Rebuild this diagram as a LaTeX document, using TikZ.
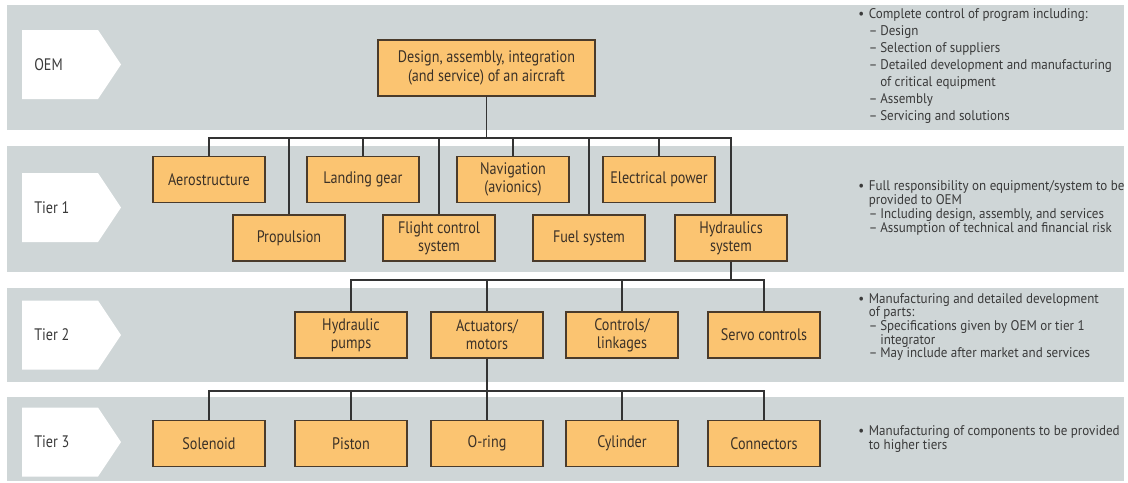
\documentclass[tikz,border=0pt]{standalone}
\usepackage{fontspec}
\setmainfont{PT Sans}[FakeStretch=0.85]
\newfontfamily\notefont{PT Sans}[FakeStretch=0.93]
\definecolor{bandgray}{HTML}{CFD6D7}
\definecolor{boxfill}{HTML}{FBC471}
\definecolor{boxline}{HTML}{4A3B2B}
\definecolor{inktext}{HTML}{3B3127}
\definecolor{notetext}{HTML}{3A3A3A}

\begin{document}
\begin{tikzpicture}[x=0.75pt,y=-0.75pt,
  band/.style={fill=bandgray},
  tierlab/.style={anchor=west,inner sep=0pt,text=notetext,font=\fontsize{12.5}{14}\selectfont},
  unit/.style={draw=boxline,line width=0.9pt,fill=boxfill,minimum width=84pt,minimum height=34.5pt,
    inner sep=2pt,align=center,text=inktext,font=\fontsize{12.5}{13.5}\selectfont},
  link/.style={draw=black!80,line width=0.9pt},
  note/.style={anchor=west,align=left,inner sep=0pt,text=notetext}]
  \useasboundingbox (0,0) rectangle (1128,482);
  % grey bands, one per level
  \fill[band] (7,5) rectangle (1124,130);
  \fill[band] (7,146) rectangle (1124,272);
  \fill[band] (7,288) rectangle (1124,382);
  \fill[band] (7,397) rectangle (1124,481);
  \foreach \yc/\lab [count=\i] in {64.5/OEM,207.5/Tier 1,335/Tier 2,442/Tier 3}{
    \fill[white] (22,\yc-34.5) -- (98,\yc-34.5) -- (121,\yc) -- (98,\yc+34.5) -- (22,\yc+34.5) -- cycle;
    \node[tierlab] (tier\i) at (34,\yc) {\lab};
  }

  % OEM
  \node[unit,minimum width=162.75pt,minimum height=42pt,font=\fontsize{12.5}{14.5}\selectfont] (oem) at (486.5,68)
    {Design, assembly, integration\\(and service) of an aircraft};
  % tier 1
  \node[unit] (aero) at (209,179.5) {Aerostructure};
  \node[unit] (gear) at (363,179.5) {Landing gear};
  \node[unit] (nav) at (513,179.5) {Navigation\\(avionics)};
  \node[unit] (elec) at (659,179.5) {Electrical power};
  \node[unit] (prop) at (289,238) {Propulsion};
  \node[unit] (fcs) at (439,238) {Flight control\\system};
  \node[unit] (fuel) at (589,238) {Fuel system};
  \node[unit] (hyd) at (731,238) {Hydraulics\\system};
  % tier 2
  \node[unit] (pumps) at (351,335) {Hydraulic\\pumps};
  \node[unit] (act) at (487,335) {Actuators/\\motors};
  \node[unit] (ctrl) at (622,335) {Controls/\\linkages};
  \node[unit] (servo) at (764,335) {Servo controls};
  % tier 3
  \node[unit] (sol) at (209,443.5) {Solenoid};
  \node[unit] (piston) at (351,443.5) {Piston};
  \node[unit] (oring) at (487,443.5) {O-ring};
  \node[unit] (cyl) at (622,443.5) {Cylinder};
  \node[unit] (conn) at (764,443.5) {Connectors};

  \coordinate (bus1) at (0,138);
  \coordinate (bus2) at (0,280);
  \coordinate (bus3) at (0,391);
  \foreach \n in {aero,gear,nav,elec,prop,fcs,fuel,hyd}
    \draw[link] (oem.south) -- (oem.south |- bus1) -| (\n.north);
  \foreach \n in {pumps,act,ctrl,servo}
    \draw[link] (hyd.south) -- (hyd.south |- bus2) -| (\n.north);
  \foreach \n in {sol,piston,oring,cyl,conn}
    \draw[link] (act.south) -- (act.south |- bus3) -| (\n.north);

  % notes on the right
  \node[note,font=\notefont\fontsize{10.5}{12.75}\selectfont] (noteoem) at (858,66) {%
    \makebox[8pt][l]{•}Complete control of program including:\\
    \hspace*{8pt}\makebox[8.5pt][l]{–}Design\\
    \hspace*{8pt}\makebox[8.5pt][l]{–}Selection of suppliers\\
    \hspace*{8pt}\makebox[8.5pt][l]{–}Detailed development and manufacturing\\
    \hspace*{16.5pt}of critical equipment\\
    \hspace*{8pt}\makebox[8.5pt][l]{–}Assembly\\
    \hspace*{8pt}\makebox[8.5pt][l]{–}Servicing and solutions};
  \node[note,font=\notefont\fontsize{10.5}{10.4}\selectfont] (notet1) at (858,208) {%
    \makebox[8pt][l]{•}Full responsibility on equipment/system to be\\
    \hspace*{8pt}provided to OEM\\
    \hspace*{8pt}\makebox[8.5pt][l]{–}Including design, assembly, and services\\
    \hspace*{8pt}\makebox[8.5pt][l]{–}Assumption of technical and financial risk};
  \node[note,font=\notefont\fontsize{10.5}{10.2}\selectfont] (notet2) at (858,327) {%
    \makebox[8pt][l]{•}Manufacturing and detailed development\\
    \hspace*{8pt}of parts:\\
    \hspace*{8pt}\makebox[8.5pt][l]{–}Specifications given by OEM or tier 1\\
    \hspace*{16.5pt}integrator\\
    \hspace*{8pt}\makebox[8.5pt][l]{–}May include after market and services};
  \node[note,font=\notefont\fontsize{10.5}{10.2}\selectfont] (notet3) at (858,439) {%
    \makebox[8pt][l]{•}Manufacturing of components to be provided\\
    \hspace*{8pt}to higher tiers};
\end{tikzpicture}
\end{document}
